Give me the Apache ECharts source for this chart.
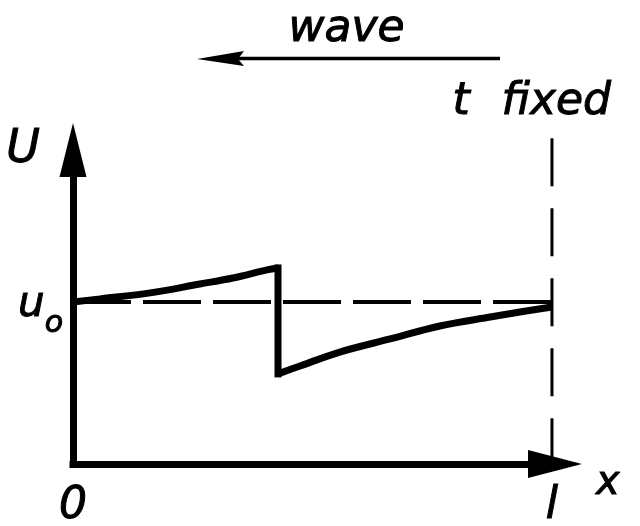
<!DOCTYPE html>
<html>
<head>
<meta charset="utf-8">
<script src="https://cdn.jsdelivr.net/npm/echarts@6/dist/echarts.min.js"></script>
<style>html,body{margin:0;padding:0;background:#fff}#c{width:640px;height:526px}</style>
</head>
<body>
<div id="c"></div>
<script>
// ---- data (x in units of l, U in units of u0) ----
// part of the profile ahead of the shock (0 <= x <= shock)
const frontX = [0, 0.056, 0.161, 0.265, 0.334, 0.405, 0.428];
const frontU = [1.0, 1.019, 1.056, 1.111, 1.148, 1.198, 1.21];
// the shock (vertical jump)
const shockX = [0.428, 0.428];
const shockU = [1.21, 0.556];
// part of the profile behind the shock (shock <= x <= l)
const backX = [0.428, 0.474, 0.557, 0.662, 0.766, 0.871, 0.933, 1.0];
const backU = [0.556, 0.605, 0.691, 0.772, 0.852, 0.907, 0.938, 0.969];
const u0Level = 1;
const rodEnd = 1;                 // x = l
const fixedLineTop = 2.01;        // top of the "t fixed" dashed line
const xTickValues = [0, 1];
const xTickLabels = ['0', 'l'];
const yTickValues = [1];
const yTickLabels = ['{u|u}{o|o}'];
const xAxisName = 'x';
const yAxisName = 'U';
const waveText = 'wave';
const fixedText = ['t', 'fixed'];

const FONT = 'DejaVu Sans';
const chart = echarts.init(document.getElementById('c'), null, {renderer: 'canvas'});
const pts = (xs, ys) => xs.map((x, i) => [x, ys[i]]);
const txt = {color: '#000', fontFamily: FONT, fontStyle: 'italic', textBorderColor: '#000', textBorderWidth: 1};

chart.setOption({
  backgroundColor: '#ffffff',
  animation: false,
  grid: {left: 73, right: 85, top: 150, bottom: 62, outerBoundsMode: 'none', containLabel: false},
  xAxis: {
    type: 'value', min: 0, max: 1.0063,
    splitLine: {show: false},
    axisTick: {show: false},
    axisLine: {show: true, symbol: ['none', 'triangle'], symbolSize: [28, 54], symbolOffset: [0, 0],
      lineStyle: {color: '#000', width: 7, cap: 'square'}},
    axisLabel: Object.assign({
      customValues: xTickValues,
      formatter: v => xTickLabels[xTickValues.indexOf(v)] ?? '',
      fontSize: 44, margin: 21
    }, txt),
    name: xAxisName, nameLocation: 'end', nameGap: 41,
    nameTextStyle: Object.assign({fontSize: 40, verticalAlign: 'top', padding: [0, 0, 0, 0]}, txt)
  },
  yAxis: {
    type: 'value', min: 0, max: 1.938,
    splitLine: {show: false},
    axisTick: {show: false},
    axisLine: {show: true, symbol: ['none', 'triangle'], symbolSize: [27, 54], symbolOffset: [0, 0],
      lineStyle: {color: '#000', width: 7, cap: 'square'}},
    axisLabel: {
      customValues: yTickValues,
      formatter: v => yTickLabels[yTickValues.indexOf(v)] ?? '',
      margin: 10,
      rich: {
        u: Object.assign({fontSize: 42, padding: [6, 0, 0, 0]}, txt),
        o: Object.assign({fontSize: 30, padding: [44, 0, 0, 0]}, txt)
      }
    },
    name: yAxisName, nameLocation: 'end', nameGap: -23,
    nameTextStyle: Object.assign({fontSize: 46, align: 'right', padding: [0, 33, 0, 0]}, txt)
  },
  series: [
    {
      type: 'line', name: 'u0 level', data: [[0, u0Level], [rodEnd, u0Level]],
      showSymbol: false, symbol: 'none', clip: false, z: 2,
      lineStyle: {color: '#000', width: 4, type: [58, 12]}
    },
    {
      type: 'line', name: 't fixed', data: [[rodEnd, fixedLineTop], [rodEnd, 0]],
      showSymbol: false, symbol: 'none', clip: false, z: 2,
      lineStyle: {color: '#000', width: 3, type: [48, 22]}
    },
    {
      type: 'line', name: 'profile ahead', data: pts(frontX, frontU),
      showSymbol: false, symbol: 'none', clip: false, z: 3, smooth: 0.35,
      lineStyle: {color: '#000', width: 7, cap: 'butt'}
    },
    {
      type: 'line', name: 'shock', data: pts(shockX, shockU),
      showSymbol: false, symbol: 'none', clip: false, z: 3,
      lineStyle: {color: '#000', width: 7, cap: 'square'}
    },
    {
      type: 'line', name: 'profile behind', data: pts(backX, backU),
      showSymbol: false, symbol: 'none', clip: false, z: 3, smooth: 0.35,
      lineStyle: {color: '#000', width: 7, cap: 'butt'}
    }
  ],
  graphic: [
    {type: 'text', left: 288, top: 7, style: {text: waveText, fill: '#000', stroke: '#000', lineWidth: 1, font: 'italic 44px "DejaVu Sans"'}},
    {type: 'line', shape: {x1: 236, y1: 58.5, x2: 500, y2: 58.5}, style: {stroke: '#000', lineWidth: 3.5}},
    {type: 'polygon', shape: {points: [[197, 59], [244, 51], [238, 59], [244, 66]]}, style: {fill: '#000'}},
    {type: 'text', left: 452, top: 80, style: {text: fixedText[0], fill: '#000', stroke: '#000', lineWidth: 1, font: 'italic 44px "DejaVu Sans"'}},
    {type: 'text', left: 501, top: 80, style: {text: fixedText[1], fill: '#000', stroke: '#000', lineWidth: 1, font: 'italic 44px "DejaVu Sans"'}}
  ]
});
</script>
</body>
</html>
